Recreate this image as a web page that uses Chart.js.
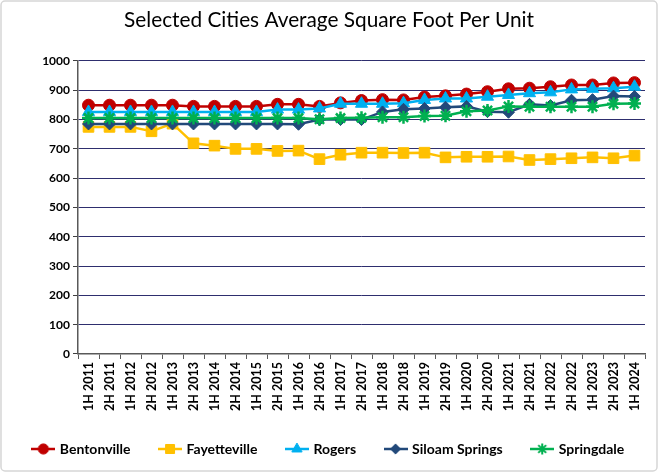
<!DOCTYPE html>
<html>
<head>
<meta charset="utf-8">
<script src="https://cdn.jsdelivr.net/npm/chart.js"></script>
<style>
  html, body { margin: 0; padding: 0; background: #fff; }
  #wrap { position: relative; width: 658px; height: 472px; }
</style>
</head>
<body>
<div id="wrap"><canvas id="myChart"></canvas></div>
<script>
// half-year periods
const periods = [
  "1H 2011", "2H 2011", "1H 2012", "2H 2012", "1H 2013", "2H 2013", "1H 2014",
  "2H 2014", "1H 2015", "2H 2015", "1H 2016", "2H 2016", "1H 2017", "2H 2017",
  "1H 2018", "2H 2018", "1H 2019", "2H 2019", "1H 2020", "2H 2020", "1H 2021",
  "2H 2021", "1H 2022", "2H 2022", "1H 2023", "2H 2023", "1H 2024"
];

// average square foot per unit
const bentonville = [849, 849, 849, 849, 849, 845, 845, 845, 845, 852, 852, 845, 857, 865, 868, 867, 877, 881, 887, 895, 905, 907, 912, 918, 918, 925, 926];
const fayetteville = [775, 775, 775, 760, 786, 719, 711, 700, 700, 693, 694, 665, 680, 687, 687, 686, 687, 671, 673, 673, 674, 662, 665, 668, 671, 668, 677];
const rogers = [826, 826, 826, 826, 826, 826, 826, 826, 826, 834, 834, 838, 854, 854, 854, 856, 867, 872, 872, 878, 884, 890, 893, 903, 905, 907, 912];
const siloamSprings = [785, 785, 785, 785, 785, 785, 785, 785, 785, 785, 784, 800, 800, 800, 826, 835, 838, 842, 845, 827, 825, 852, 848, 866, 868, 880, 879];
const springdale = [805, 805, 805, 805, 805, 805, 805, 805, 805, 805, 805, 801, 805, 806, 808, 808, 812, 813, 828, 831, 845, 844, 844, 844, 844, 854, 855];

const yTicks = [0, 100, 200, 300, 400, 500, 600, 700, 800, 900, 1000];

const FONT = "Lato, 'Open Sans', sans-serif";

const series = [
  { label: "Bentonville", data: bentonville, color: "#C00000", style: "circle", r: 6 },
  { label: "Fayetteville", data: fayetteville, color: "#FFC000", style: "rect", r: 7.5 },
  { label: "Rogers", data: rogers, color: "#00B0F0", style: "triangle", r: 7 },
  { label: "Siloam Springs", data: siloamSprings, color: "#22497A", style: "rectRot", r: 6 },
  { label: "Springdale", data: springdale, color: "#00B050", style: "star", r: 6.5 }
];

// small line+marker picture for the legend, like the spreadsheet legend
const legendIcon = (s) => {
  const c = document.createElement("canvas");
  c.width = 24; c.height = 14;
  const g = c.getContext("2d");
  g.strokeStyle = s.color; g.lineWidth = 2.5;
  g.beginPath(); g.moveTo(0, 7); g.lineTo(24, 7); g.stroke();
  g.fillStyle = s.color; g.lineWidth = s.style === "star" ? 2 : 1;
  Chart.helpers.drawPoint(g, { pointStyle: s.style, radius: s.r * 0.85, borderWidth: g.lineWidth }, 12, 7);
  return c;
};

const frame = {
  id: "frame",
  afterDraw(chart) {
    const ctx = chart.ctx;
    ctx.save();
    ctx.strokeStyle = "#d6d6d6";
    ctx.lineWidth = 1.5;
    ctx.beginPath();
    ctx.roundRect(1, 1, chart.width - 2, chart.height - 2, 4);
    ctx.stroke();
    ctx.restore();
  }
};

const n = series.length;
new Chart(document.getElementById("myChart").getContext("2d"), {
  type: "line",
  data: {
    labels: periods,
    datasets: series.map((s, i) => ({
      label: s.label,
      data: s.data,
      borderColor: s.color,
      backgroundColor: s.color,
      pointBackgroundColor: s.color,
      pointBorderColor: s.color,
      pointStyle: s.style,
      pointRadius: s.r,
      pointBorderWidth: s.style === "star" ? 2.5 : 1,
      borderWidth: 2.5,
      tension: 0,
      order: n - i,
      yAxisID: "y"
    }))
  },
  options: {
    responsive: true,
    maintainAspectRatio: false,
    animation: false,
    layout: { padding: { top: 0, left: 0, right: 0, bottom: 6 } },
    plugins: {
      title: {
        display: true,
        text: "Selected Cities Average Square Foot Per Unit",
        color: "#000",
        font: { family: FONT, size: 20.8, weight: "normal" },
        padding: { top: 8, bottom: 28 }
      },
      legend: {
        position: "bottom",
        labels: {
          usePointStyle: true,
          pointStyleWidth: 19,
          padding: 30,
          color: "#000",
          font: { family: FONT, size: 14, weight: "bold" },
          generateLabels: (chart) => series.map((s, i) => ({
            text: s.label,
            fillStyle: s.color,
            strokeStyle: s.color,
            lineWidth: 0,
            pointStyle: legendIcon(s),
            datasetIndex: i,
            hidden: false,
            fontColor: "#000"
          }))
        }
      },
      tooltip: { enabled: false }
    },
    scales: {
      x: {
        offset: true,
        afterFit: (s) => { s.height = 58; },
        grid: { display: true, drawOnChartArea: false, drawTicks: true, tickLength: 5, color: "#595959", offset: true },
        border: { color: "#595959", width: 1.5 },
        ticks: {
          autoSkip: false, minRotation: 90, maxRotation: 90, padding: 3,
          color: "#000", font: { family: FONT, size: 12.5, weight: "bold" }
        }
      },
      y: {
        min: 0, max: 1000,
        afterFit: (s) => { s.width = 78; },
        afterBuildTicks: (s) => { s.ticks = yTicks.map(v => ({ value: v })); },
        grid: { color: "#2e2e6e", lineWidth: 1, tickColor: "#404040", tickLength: 5 },
        border: { color: "#595959", width: 1.5 },
        ticks: {
          padding: 3, color: "#000", font: { family: FONT, size: 12, weight: "bold" },
          callback: (v) => String(v)
        }
      },
      yr: {
        position: "right",
        display: true,
        afterFit: (s) => { s.width = 13; },
        grid: { display: false },
        border: { display: false },
        ticks: { display: false }
      }
    }
  },
  plugins: [frame]
});
</script>
</body>
</html>
